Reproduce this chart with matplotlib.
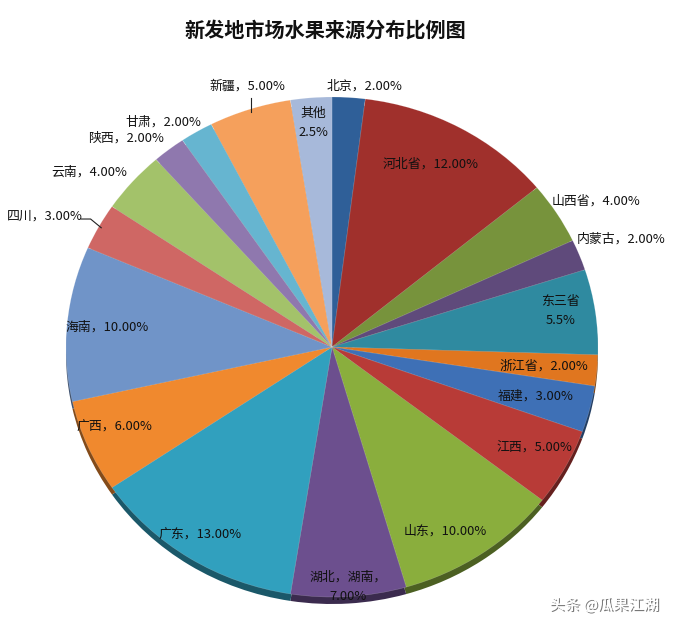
import numpy as np
import matplotlib.pyplot as plt
import matplotlib.colors as mcolors
import matplotlib.patheffects as pe

plt.rcParams['font.family'] = ['Noto Sans CJK SC', 'DejaVu Sans']

# data, clockwise from 12 o'clock
regions = ['北京', '河北省', '山西省', '内蒙古', '东三省', '浙江省', '福建', '江西', '山东',
           '湖北，湖南', '广东', '广西', '海南', '四川', '云南', '陕西', '甘肃', '新疆', '其他']
shares = [2.0, 12.0, 4.0, 2.0, 5.5, 2.0, 3.0, 5.0, 10.0,
          7.0, 13.0, 6.0, 10.0, 3.0, 4.0, 2.0, 2.0, 5.0, 2.5]
label_texts = ['北京，2.00%', '河北省，12.00%', '山西省，4.00%', '内蒙古，2.00%', '东三省\n5.5%',
               '浙江省，2.00%', '福建，3.00%', '江西，5.00%', '山东，10.00%', '湖北，湖南，\n7.00%',
               '广东，13.00%', '广西，6.00%', '海南，10.00%', '四川，3.00%', '云南，4.00%',
               '陕西，2.00%', '甘肃，2.00%', '新疆，5.00%', '其他\n2.5%']

colors = ['#2F5F98', '#A0302C', '#77933C', '#5F4A7B', '#2F8AA0', '#E0761F', '#3E70B6',
          '#B83B37', '#8AAE3D', '#6C4F8E', '#31A0BE', '#F0892E', '#7094C8', '#CF6764',
          '#A3C26A', '#8F78AE', '#66B5D0', '#F5A05C', '#A7B9DA']

# label placement: radius factor and angle nudge (deg) per wedge
label_r = [1.05, 0.82, 1.15, 1.17, 0.87, 0.80, 0.79, 0.86, 0.85, 0.96,
           0.90, 0.88, 0.85, 1.20, 1.15, 1.14, 1.10, 1.09, 0.90]
label_da = [-3, 2, -2, 0, 1.5, 0, 0, 1, -4, 0, -1, -2, 0, 3, 4, 5, 4.5, -1, 0]

fig = plt.figure(figsize=(6.84, 6.32), dpi=100)
ax = fig.add_axes([0, 0, 1, 1])

# pixel geometry of the squashed pie
cx, cy, rx, ry = 332, 347, 266, 250

# 3d rim: darker copy slightly below
dark = [tuple(np.array(mcolors.to_rgb(c)) * 0.55) for c in colors]
ax.pie(shares, colors=dark, startangle=90, counterclock=False, center=(0, -0.028),
       radius=1.0, wedgeprops=dict(linewidth=0), frame=True)
wedges, _ = ax.pie(shares, colors=colors, startangle=90, counterclock=False,
                   radius=1.0, wedgeprops=dict(linewidth=0.4, edgecolor=(1, 1, 1, 0.25)),
                   frame=True)
ax.set_aspect('auto')
ax.set_xlim(-cx / rx, (684 - cx) / rx)
ax.set_ylim(-(632 - cy) / ry, cy / ry)
ax.axis('off')

cum = np.cumsum([0] + shares)
for i, txt in enumerate(label_texts):
    mid = 90 - 3.6 * (cum[i] + cum[i + 1]) / 2 + label_da[i]
    a = np.deg2rad(mid)
    x, y = label_r[i] * np.cos(a), label_r[i] * np.sin(a)
    ax.text(x, y, txt, ha='center', va='center', fontsize=9.3, color='#111111',
            linespacing=1.6)

# leader lines for 新疆 and 四川
for name in ['新疆', '四川']:
    i = regions.index(name)
    mid = np.deg2rad(90 - 3.6 * (cum[i] + cum[i + 1]) / 2)
    p0 = (0.99 * np.cos(mid), 0.99 * np.sin(mid))
    if name == '新疆':
        p1 = (p0[0], p0[1] + 0.055)
        ax.plot([p0[0], p1[0]], [p0[1], p1[1]], color='#222222', lw=0.8)
    else:
        p1 = (p0[0] - 0.04, p0[1] + 0.035)
        p2 = (p1[0] - 0.035, p1[1])
        ax.plot([p0[0], p1[0], p2[0]], [p0[1], p1[1], p2[1]], color='#222222', lw=0.8)

fig.text(325 / 684, 1 - 30 / 632, '新发地市场水果来源分布比例图', ha='center', va='center',
         fontsize=14.5, fontweight='bold', color='#111111')

fig.text(604 / 684, 1 - 605 / 632, '头条 @瓜果江湖', ha='center', va='center',
         fontsize=11, color='white',
         path_effects=[pe.withSimplePatchShadow(offset=(1, -1), shadow_rgbFace='#555555', alpha=0.8),
                       pe.Normal()])

fig.savefig('out.png', dpi=100)
